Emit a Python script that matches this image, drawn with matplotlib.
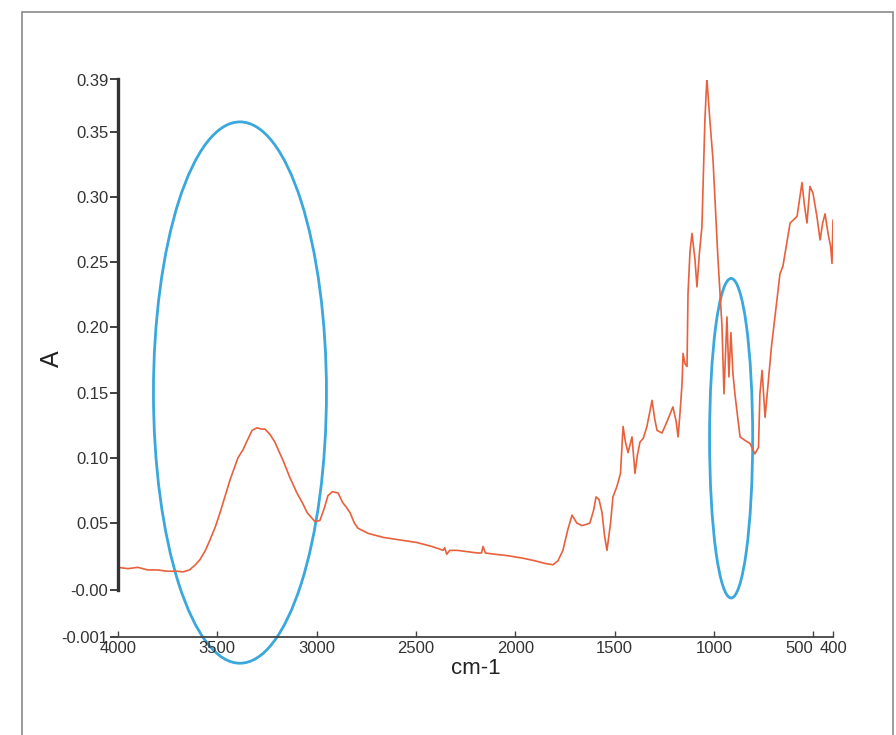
import matplotlib.pyplot as plt
from matplotlib.patches import Ellipse, Rectangle

plt.rcParams['font.family'] = ['Liberation Sans', 'DejaVu Sans']

# FTIR spectrum
wavenumber = [4000, 3950, 3900, 3850, 3800, 3750, 3700, 3673, 3640, 3610, 3587, 3560, 3537,
              3510, 3486, 3460, 3436, 3410, 3396, 3371, 3350, 3325, 3300, 3280, 3260, 3235,
              3210, 3190, 3169, 3135, 3099, 3070, 3048, 3025, 3008, 2983, 2960, 2943, 2920,
              2892, 2870, 2850, 2832, 2810, 2792, 2740, 2666, 2580, 2494, 2420, 2380, 2364,
              2355, 2345, 2330, 2290, 2240, 2190, 2170, 2162, 2150, 2100, 2040, 1961, 1900,
              1850, 1810, 1785, 1760, 1735, 1714, 1690, 1664, 1640, 1624, 1605, 1593, 1578,
              1563, 1550, 1538, 1520, 1508, 1488, 1470, 1457, 1445, 1432, 1412, 1397, 1385,
              1372, 1355, 1337, 1311, 1298, 1286, 1261, 1235, 1206, 1190, 1180, 1170, 1160,
              1155, 1145, 1135, 1130, 1120, 1110, 1095, 1085, 1072, 1060, 1045, 1035, 1020,
              1004, 979, 959, 949, 940, 934, 924, 914, 904, 894, 868, 840, 818, 793, 775,
              768, 757, 742, 710, 667, 652, 616, 581, 556, 545, 531, 516, 501, 481, 465,
              452, 440, 425, 412, 405, 400]
absorbance = [0.016, 0.015, 0.016, 0.014, 0.014, 0.013, 0.013, 0.0125, 0.014, 0.018, 0.022,
              0.029, 0.037, 0.047, 0.058, 0.071, 0.083, 0.094, 0.100, 0.106, 0.113, 0.121,
              0.123, 0.122, 0.122, 0.118, 0.112, 0.105, 0.098, 0.085, 0.073, 0.065, 0.058,
              0.054, 0.051, 0.052, 0.062, 0.071, 0.074, 0.073, 0.066, 0.062, 0.058, 0.050,
              0.046, 0.042, 0.039, 0.037, 0.035, 0.032, 0.030, 0.029, 0.031, 0.026, 0.029,
              0.029, 0.028, 0.027, 0.027, 0.032, 0.027, 0.026, 0.025, 0.023, 0.021, 0.019,
              0.018, 0.021, 0.029, 0.045, 0.056, 0.050, 0.048, 0.049, 0.050, 0.060, 0.070,
              0.068, 0.058, 0.040, 0.029, 0.050, 0.070, 0.078, 0.088, 0.124, 0.112, 0.104,
              0.116, 0.088, 0.102, 0.112, 0.115, 0.124, 0.144, 0.130, 0.121, 0.119, 0.128,
              0.139, 0.128, 0.116, 0.135, 0.157, 0.180, 0.172, 0.170, 0.226, 0.258, 0.272,
              0.252, 0.231, 0.258, 0.277, 0.359, 0.391, 0.359, 0.328, 0.252, 0.201, 0.149,
              0.185, 0.208, 0.162, 0.196, 0.165, 0.149, 0.116, 0.113, 0.111, 0.103, 0.108,
              0.149, 0.167, 0.131, 0.185, 0.241, 0.247, 0.280, 0.285, 0.311, 0.295, 0.280,
              0.308, 0.303, 0.285, 0.267, 0.280, 0.287, 0.272, 0.262, 0.249, 0.282]

ytick_values = [0.39, 0.35, 0.30, 0.25, 0.20, 0.15, 0.10, 0.05, -0.0015, -0.0374]
ytick_labels = ['0.39', '0.35', '0.30', '0.25', '0.20', '0.15', '0.10', '0.05', '-0.00', '-0.001']
xtick_values = [4000, 3500, 3000, 2500, 2000, 1500, 1000, 500, 400]
xtick_labels = ['4000', '3500', '3000', '2500', '2000', '1500', '1000', '500', '400']

# highlighted regions: (centre cm-1, centre A, width cm-1, height A)
ellipses = [(3386, 0.150, 871, 0.415), (913, 0.115, 217, 0.245)]

fig = plt.figure(figsize=(8.96, 7.35), dpi=100)
fig.patches.append(Rectangle((22 / 896, -0.1), (893 - 22) / 896, 1.1 - 12 / 735,
                             transform=fig.transFigure, fill=False,
                             edgecolor='#8a8a8a', linewidth=1.2))

ax = fig.add_axes([118 / 896, (735 - 637) / 735, (833 - 118) / 896, (637 - 79.5) / 735])
ax.plot(wavenumber, absorbance, color='#e8603c', linewidth=1.2)

for cx, cy, w, h in ellipses:
    ax.add_patch(Ellipse((cx, cy), w, h, fill=False, edgecolor='#3aa8dc',
                         linewidth=2.0, clip_on=False))

ax.set_xlim(4000, 400)
ax.set_ylim(-0.0374, 0.39)

for side in ['top', 'right']:
    ax.spines[side].set_visible(False)
ax.spines['left'].set_bounds(-0.0015, 0.39)
ax.spines['left'].set_linewidth(2.4)
ax.spines['left'].set_color('#333333')
ax.spines['bottom'].set_linewidth(1.3)
ax.spines['bottom'].set_color('#444444')

ax.set_yticks(ytick_values)
ax.set_yticklabels(ytick_labels)
ax.set_xticks(xtick_values)
ax.set_xticklabels(xtick_labels)
ax.tick_params(axis='y', direction='out', length=6, width=1.3, color='#333333',
               labelsize=12, labelcolor='#333333', pad=1)
ax.tick_params(axis='x', direction='in', length=4, width=1.0, color='#444444',
               labelsize=12, labelcolor='#333333', pad=3)
# the last two x labels sit side by side ("500400") as in the original
xlabels = ax.get_xticklabels()
xlabels[-2].set_horizontalalignment('right')

ax.set_xlabel('cm-1', fontsize=16, color='#222222', labelpad=1)
ax.set_ylabel('A', fontsize=18, color='#222222', labelpad=-2)

fig.savefig('out.png', dpi=100)
